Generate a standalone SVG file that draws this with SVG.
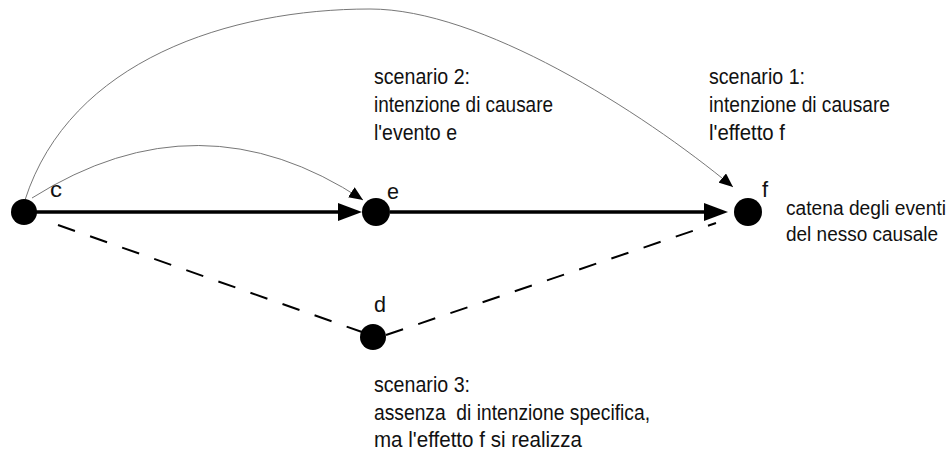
<svg xmlns="http://www.w3.org/2000/svg" width="951" height="454" viewBox="0 0 951 454">
  <style>
    .lbl { font-family: "Liberation Sans", Arial, sans-serif; font-size: 22px; fill: #111; }
    .lbl-s { font-family: "Liberation Sans", Arial, sans-serif; font-size: 19.5px; fill: #111; }
    .nlbl { font-family: "Liberation Sans", Arial, sans-serif; font-size: 22px; fill: #111; }
    .node { fill: #000; }
    .thick { stroke: #000; stroke-width: 3.5; fill: none; }
    .thin { stroke: #777; stroke-width: 1; fill: none; }
    .dash { stroke: #000; stroke-width: 2; fill: none; stroke-dasharray: 18 16; }
  </style>
  <defs>
    <marker id="arrowThick" markerUnits="userSpaceOnUse" markerWidth="24" markerHeight="18" refX="4" refY="9" orient="auto">
      <path d="M0,0 L24,9 L0,18 z" fill="#000"/>
    </marker>
    <marker id="arrowThin" markerUnits="userSpaceOnUse" markerWidth="14" markerHeight="12" refX="14" refY="6" orient="auto">
      <path d="M0,0 L14,6 L0,12 z" fill="#000"/>
    </marker>
  </defs>
  <rect width="951" height="454" fill="#fff"/>

  <g id="connectors">
    <path class="thin" d="M25,200 C70,60 230,9 370,9 C480,9 640,110 733,187" marker-end="url(#arrowThin)"/>
    <path class="thin" d="M32,198 Q200,92 363,200" marker-end="url(#arrowThin)"/>
    <line class="thick" x1="36" y1="212" x2="342" y2="212" marker-end="url(#arrowThick)"/>
    <line class="thick" x1="390" y1="212" x2="708" y2="212" marker-end="url(#arrowThick)"/>
    <line class="dash" x1="58" y1="225" x2="362" y2="332"/>
    <line class="dash" x1="386" y1="335" x2="716" y2="223"/>
  </g>

  <g id="node-c">
    <circle class="node" cx="24" cy="212" r="13"/>
    <text class="nlbl" x="50" y="197" textLength="12" lengthAdjust="spacingAndGlyphs">c</text>
  </g>
  <g id="node-e">
    <circle class="node" cx="376" cy="212" r="14"/>
    <text class="nlbl" x="387" y="199" textLength="12" lengthAdjust="spacingAndGlyphs">e</text>
  </g>
  <g id="node-f">
    <circle class="node" cx="748" cy="212" r="14"/>
    <text class="nlbl" x="762" y="197">f</text>
  </g>
  <g id="node-d">
    <circle class="node" cx="373" cy="337" r="13"/>
    <text class="nlbl" x="374" y="312" textLength="12" lengthAdjust="spacingAndGlyphs">d</text>
  </g>

  <g id="label-scenario2">
    <text class="lbl" x="374" y="84" textLength="96" lengthAdjust="spacingAndGlyphs">scenario 2:</text>
    <text class="lbl" x="374" y="112" textLength="179" lengthAdjust="spacingAndGlyphs">intenzione di causare</text>
    <text class="lbl" x="374" y="140" textLength="83" lengthAdjust="spacingAndGlyphs">l'evento e</text>
  </g>
  <g id="label-scenario1">
    <text class="lbl" x="709" y="84" textLength="96" lengthAdjust="spacingAndGlyphs">scenario 1:</text>
    <text class="lbl" x="709" y="112" textLength="181" lengthAdjust="spacingAndGlyphs">intenzione di causare</text>
    <text class="lbl" x="709" y="140" textLength="76" lengthAdjust="spacingAndGlyphs">l'effetto f</text>
  </g>
  <g id="label-chain">
    <text class="lbl-s" x="786" y="215" textLength="160" lengthAdjust="spacingAndGlyphs">catena degli eventi</text>
    <text class="lbl-s" x="786" y="241" textLength="152" lengthAdjust="spacingAndGlyphs">del nesso causale</text>
  </g>
  <g id="label-scenario3">
    <text class="lbl" x="374" y="392" textLength="96" lengthAdjust="spacingAndGlyphs">scenario 3:</text>
    <text class="lbl" x="374" y="420" textLength="276" lengthAdjust="spacingAndGlyphs" xml:space="preserve">assenza  di intenzione specifica,</text>
    <text class="lbl" x="374" y="447" textLength="208" lengthAdjust="spacingAndGlyphs">ma l'effetto f si realizza</text>
  </g>
</svg>
